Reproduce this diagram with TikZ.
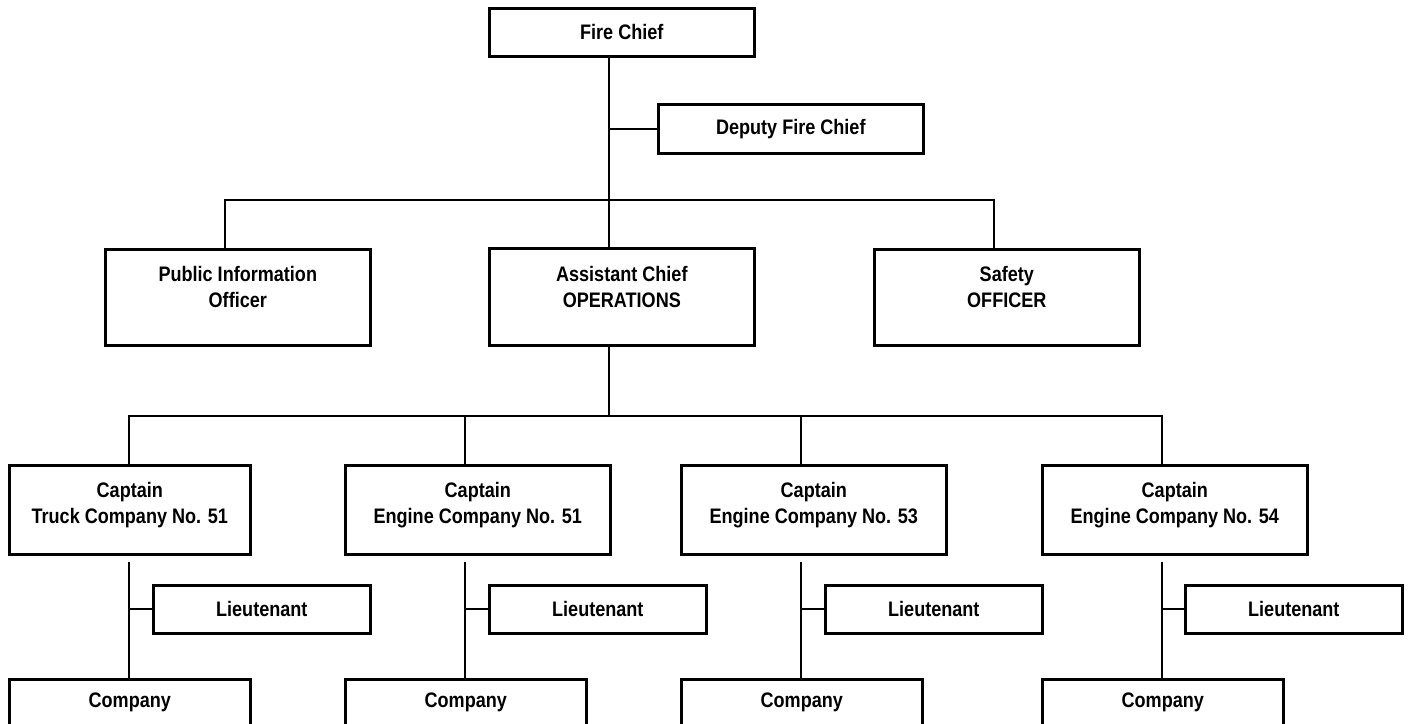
\documentclass[tikz,border=0pt]{standalone}
\usepackage{fontspec}
\setmainfont{Liberation Sans}[FakeStretch=0.86]
\usepackage{tikz}
\usetikzlibrary{positioning}

\begin{document}
\begin{tikzpicture}[x=1pt, y=-1pt,
    orgbox/.style={draw, line width=2.6pt, anchor=north west, align=center,
        inner sep=0pt, font=\fontsize{21}{26}\selectfont\bfseries},
    widebox/.style={orgbox, minimum width=265pt},
    narrowbox/.style={orgbox, minimum width=241pt},
    ltbox/.style={orgbox, minimum width=217pt, minimum height=48pt},
    link/.style={line width=2pt}]
    \useasboundingbox (0,0) rectangle (1408,723);

    % top of the chart
    \node[widebox, minimum height=48pt] (chief) at (488,7) {Fire Chief};
    \node[widebox, minimum height=49pt] (deputy) at (657,103) {Deputy Fire Chief};

    % staff and operations
    \node[widebox, minimum height=96pt, text depth=20pt] (pio) at (104,248) {Public Information\\Officer};
    \node[widebox, minimum height=97pt, text depth=20pt] (asst) at (488,247) {Assistant Chief\\OPERATIONS};
    \node[widebox, minimum height=96pt, text depth=20pt] (safety) at (873,248) {Safety\\OFFICER};

    \draw[link] ([xshift=121pt]chief.south west) -- ([xshift=121pt]asst.north west);
    \draw[link] ([xshift=121pt]chief.south west |- deputy.west) -- (deputy.west);
    \draw[link] ([xshift=121pt]pio.north west) -- ++(0,-48) -| ([xshift=121pt]safety.north west);

    % captains
    \node[narrowbox, minimum height=89pt, text depth=13pt] (truck51) at (8,464) {Captain\\Truck Company No. 51};
    \node[widebox, minimum height=89pt, text depth=13pt] (engine51) at (344,464) {Captain\\Engine Company No. 51};
    \node[widebox, minimum height=89pt, text depth=13pt] (engine53) at (680,464) {Captain\\Engine Company No. 53};
    \node[widebox, minimum height=89pt, text depth=13pt] (engine54) at (1041,464) {Captain\\Engine Company No. 54};

    \draw[link] ([xshift=121pt]asst.south west) -- ++(0,70.5);
    \draw[link] ([xshift=121pt]truck51.north west) -- ++(0,-48) -| ([xshift=121pt]engine54.north west);
    \draw[link] ([xshift=121pt]engine51.north west) -- ++(0,-48);
    \draw[link] ([xshift=121pt]engine53.north west) -- ++(0,-48);

    % lieutenants
    \node[ltbox] (lt51t) at (152,584) {Lieutenant};
    \node[ltbox] (lt51e) at (488,584) {Lieutenant};
    \node[ltbox] (lt53) at (824,584) {Lieutenant};
    \node[ltbox] (lt54) at (1184,584) {Lieutenant};

    % companies
    \node[narrowbox, minimum height=46pt] (co51t) at (8,678) {Company};
    \node[narrowbox, minimum height=46pt] (co51e) at (344,678) {Company};
    \node[narrowbox, minimum height=46pt] (co53) at (680,678) {Company};
    \node[narrowbox, minimum height=46pt] (co54) at (1041,678) {Company};

    \draw[link] ([xshift=121pt,yshift=-6pt]truck51.south west) -- ([xshift=121pt]co51t.north west);
    \draw[link] ([xshift=121pt,yshift=-6pt]engine51.south west) -- ([xshift=121pt]co51e.north west);
    \draw[link] ([xshift=121pt,yshift=-6pt]engine53.south west) -- ([xshift=121pt]co53.north west);
    \draw[link] ([xshift=121pt,yshift=-6pt]engine54.south west) -- ([xshift=121pt]co54.north west);
    \draw[link] ([xshift=121pt]truck51.south west |- lt51t.west) -- (lt51t.west);
    \draw[link] ([xshift=121pt]engine51.south west |- lt51e.west) -- (lt51e.west);
    \draw[link] ([xshift=121pt]engine53.south west |- lt53.west) -- (lt53.west);
    \draw[link] ([xshift=121pt]engine54.south west |- lt54.west) -- (lt54.west);
\end{tikzpicture}
\end{document}
